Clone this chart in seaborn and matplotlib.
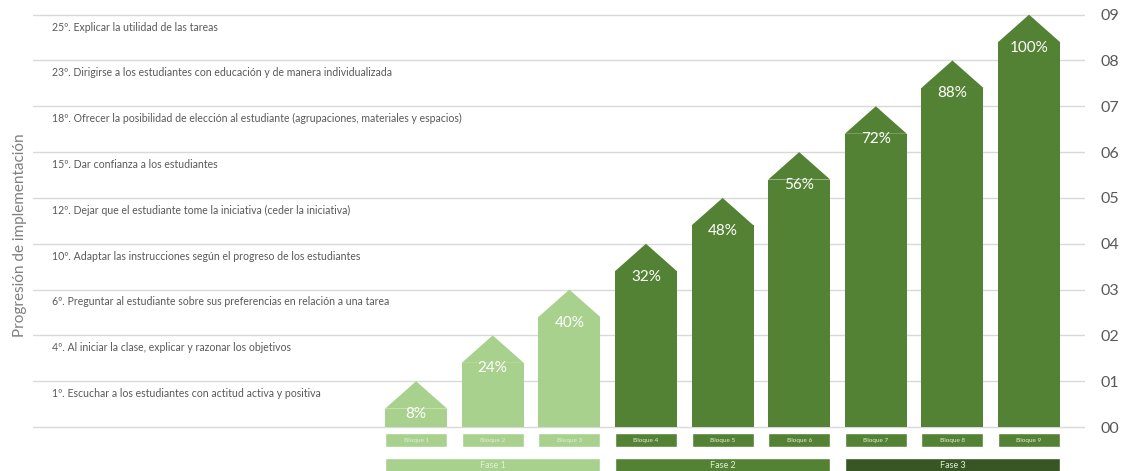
import matplotlib
matplotlib.use("Agg")
import matplotlib.pyplot as plt
import seaborn as sns
import pandas as pd
from matplotlib.patches import Polygon

# ---- data ----
bloques = ["Bloque 1", "Bloque 2", "Bloque 3", "Bloque 4", "Bloque 5",
           "Bloque 6", "Bloque 7", "Bloque 8", "Bloque 9"]
porcentajes = [8, 24, 40, 32, 48, 56, 72, 88, 100]
niveles = [1, 2, 3, 4, 5, 6, 7, 8, 9]
fases = ["Fase 1", "Fase 1", "Fase 1", "Fase 2", "Fase 2", "Fase 2",
         "Fase 3", "Fase 3", "Fase 3"]
acciones = [
    "1º. Escuchar a los estudiantes con actitud activa y positiva",
    "4º. Al iniciar la clase, explicar y razonar los objetivos",
    "6º. Preguntar al estudiante sobre sus preferencias en relación a una tarea",
    "10º. Adaptar las instrucciones según el progreso de los estudiantes",
    "12º. Dejar que el estudiante tome la iniciativa (ceder la iniciativa)",
    "15º. Dar confianza a los estudiantes",
    "18º. Ofrecer la posibilidad de elección al estudiante (agrupaciones, materiales y espacios)",
    "23º. Dirigirse a los estudiantes con educación y de manera individualizada",
    "25º. Explicar la utilidad de las tareas",
]
etiquetas_eje = ["00", "01", "02", "03", "04", "05", "06", "07", "08", "09"]
nombres_fase = ["Fase 1", "Fase 2", "Fase 3"]

# ---- style ----
colores_bar = {"Fase 1": "#a9d18e", "Fase 2": "#548235", "Fase 3": "#548235"}
colores_caja = {"Fase 1": "#a9d18e", "Fase 2": "#548235", "Fase 3": "#548235"}
colores_fase = {"Fase 1": "#a9d18e", "Fase 2": "#548235", "Fase 3": "#375623"}
PUNTA = 0.6
ANCHO = 0.81
GRIS = "#595959"

sns.set_theme(style="white")
plt.rcParams['font.family'] = ['Lato', 'DejaVu Sans']

fig = plt.figure(figsize=(11.23, 4.71), dpi=100)
ax = fig.add_axes([33 / 1123, 0, 1052 / 1123, 1])

df = pd.DataFrame({
    "bloque": bloques,
    "fase": fases,
    "altura": [n - PUNTA for n in niveles],
})
sns.barplot(data=df, x="bloque", y="altura", hue="fase", palette=colores_bar,
            dodge=False, width=ANCHO, saturation=1, legend=False, ax=ax,
            zorder=3, linewidth=0)

# arrow heads on top of each bar
for p in ax.patches:
    x0, w, h = p.get_x(), p.get_width(), p.get_height()
    tri = Polygon([(x0, h), (x0 + w, h), (x0 + w / 2, h + PUNTA)],
                  closed=True, facecolor=p.get_facecolor(), edgecolor="none",
                  zorder=3)
    ax.add_patch(tri)

# percentage labels
for i, (n, pc) in enumerate(zip(niveles, porcentajes)):
    ax.text(i, n - PUNTA - 0.12, f"{pc}%", ha="center", va="center",
            color="white", fontsize=11, zorder=4)

# left action labels
for n, txt in zip(niveles, acciones):
    ax.text(-4.75, n - 0.27, txt, ha="left", va="center", fontsize=7.6,
            color=GRIS, zorder=2)

# bloque boxes
pos = list(range(len(bloques)))
ax.bar(pos, [0.31] * len(pos), bottom=-0.44, width=ANCHO,
       color=[colores_caja[f] for f in fases], zorder=3)
for i, b in enumerate(bloques):
    ax.text(i, -0.285, b, ha="center", va="center", fontsize=4.6,
            color="#e2efd9", zorder=4)

# fase boxes
for f in nombres_fase:
    idx = [i for i, ff in enumerate(fases) if ff == f]
    c = sum(idx) / len(idx)
    wd = (max(idx) - min(idx)) + ANCHO
    ax.bar([c], [0.34], bottom=-1.02, width=wd, color=colores_fase[f], zorder=3)
    ax.text(c, -0.84, f, ha="center", va="center", fontsize=6.5,
            color="#e2efd9", zorder=4)

# axes
ax.set_xlim(-5.0, 8.73)
ax.set_ylim(-0.96, 9.32)
ax.set_xticks([])
ax.set_xlabel("")
ax.set_yticks(range(len(etiquetas_eje)))
ax.set_yticklabels(etiquetas_eje)
ax.yaxis.tick_right()
ax.tick_params(axis="y", length=0, pad=11, labelsize=11.5, labelcolor=GRIS)
ax.grid(axis="y", color="#d9d9d9", linewidth=1)
ax.grid(axis="x", visible=False)
ax.set_axisbelow(True)
ax.set_ylabel("Progresión de implementación", fontsize=11, color="#7f7f7f",
              labelpad=4)
ax.yaxis.set_label_position("left")
for s in ax.spines.values():
    s.set_visible(False)
ax.set_facecolor("white")

fig.savefig("out.png", dpi=100, facecolor="white")
